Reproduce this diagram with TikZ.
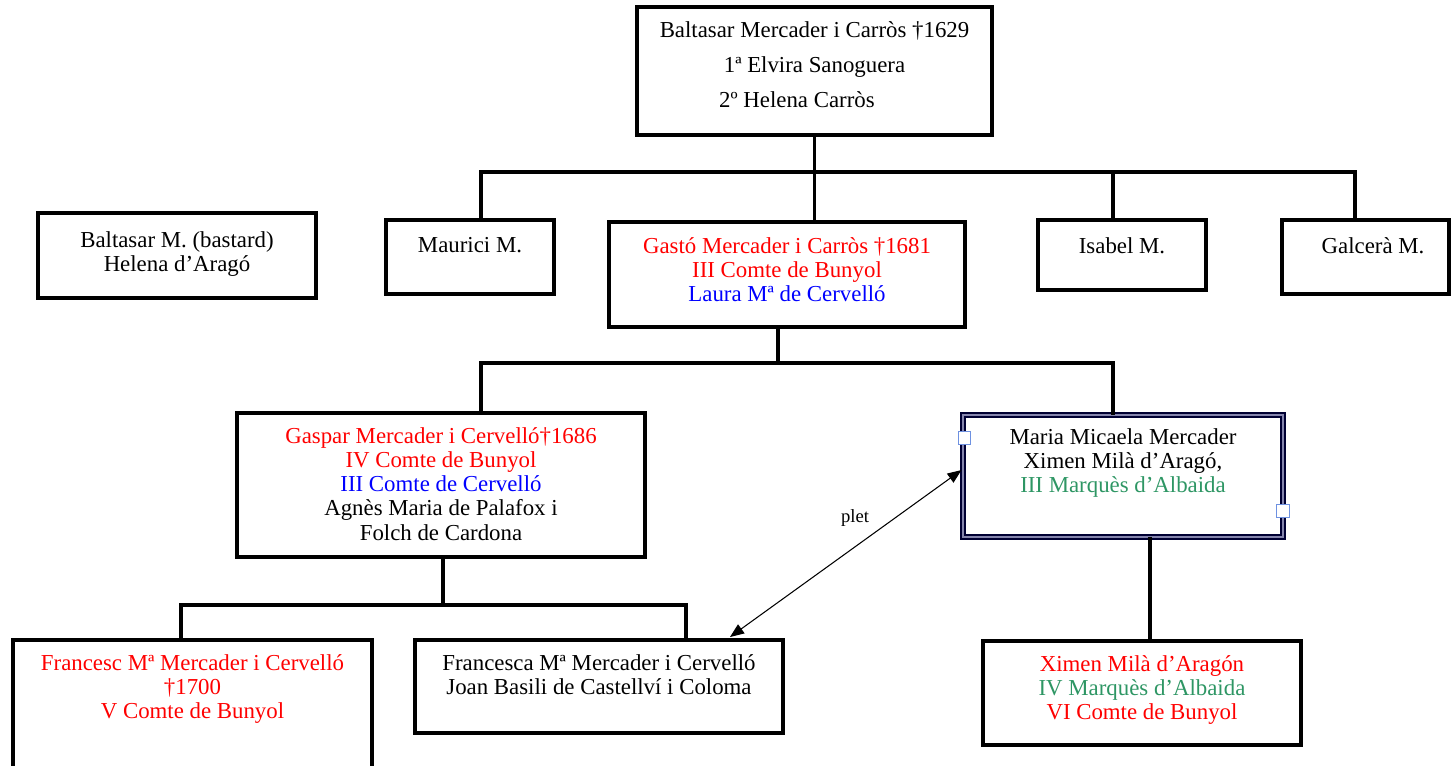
\documentclass[tikz,border=0pt]{standalone}
\usepackage{fontspec}
\setmainfont{Liberation Serif}
\usetikzlibrary{positioning,arrows.meta}
\definecolor{nobred}{RGB}{255,0,0}
\definecolor{nobblue}{RGB}{0,0,255}
\definecolor{nobgreen}{RGB}{46,150,100}
\definecolor{handleblue}{RGB}{110,145,225}

\begin{document}
\begin{tikzpicture}[x=0.02cm,y=-0.02cm,
	box/.style={draw, line width=2.2pt, inner sep=0pt, outer sep=0pt},
	txt/.style={inner sep=0pt, align=center, font=\fontsize{13}{13.7}\selectfont},
	conn/.style={line width=2.2pt},
	plet/.style={line width=0.6pt, {Triangle[length=0.28cm,width=0.22cm]}-{Triangle[length=0.28cm,width=0.22cm]}},
	handle/.style={draw=handleblue, fill=white, line width=0.8pt, minimum size=0.25cm, inner sep=0pt}]
	\clip (0,0) rectangle (1451,765);

	% boxes
	\node[box, minimum width=7.1cm, minimum height=2.56cm] (top) at (814.5,71) {};
	\node[box, minimum width=5.56cm, minimum height=1.7cm] (bastard) at (177,255.5) {};
	\node[box, minimum width=3.36cm, minimum height=1.48cm] (maurici) at (470,257) {};
	\node[box, minimum width=7.12cm, minimum height=2.1cm] (gasto) at (787,274.5) {};
	\node[box, minimum width=3.36cm, minimum height=1.4cm] (isabel) at (1122,255) {};
	\node[box, minimum width=3.34cm, minimum height=1.48cm] (galcera) at (1365.5,257) {};
	\node[box, minimum width=8.16cm, minimum height=2.88cm] (gaspar) at (441,485) {};
	\node[box, draw=black!80!blue, double=blue!20!gray!80, double distance=1.2pt, line width=0.9pt, minimum width=6.4cm, minimum height=2.44cm] (maria) at (1123,476) {};
	\node[box, minimum width=7.18cm, minimum height=3.2cm] (francesc) at (192.5,720) {};
	\node[box, minimum width=7.36cm, minimum height=1.86cm] (francesca) at (599,686.5) {};
	\node[box, minimum width=6.36cm, minimum height=2.08cm] (ximen) at (1142,693) {};

	% texts
	\node[txt, font=\fontsize{13}{19.9}\selectfont, below=0.29cm of top.north] (toptxt) {Baltasar Mercader i Carròs †1629\\1ª Elvira Sanoguera\\2º Helena Carròs\hspace*{20pt}};
	\node[txt, below=0.37cm of bastard.north] (bastardtxt) {Baltasar M. (bastard)\\Helena d’Aragó};
	\node[txt, below=0.35cm of maurici.north] (mauricitxt) {Maurici M.};
	\node[txt, below=0.31cm of gasto.north] (gastotxt) {\textcolor{nobred}{Gastó Mercader i Carròs †1681}\\\textcolor{nobred}{III Comte de Bunyol}\\\textcolor{nobblue}{Laura Mª de Cervelló}};
	\node[txt, below=0.35cm of isabel.north] (isabeltxt) {Isabel M.};
	\node[txt, below=0.35cm of galcera.north, xshift=0.15cm] (galceratxt) {Galcerà M.};
	\node[txt, below=0.29cm of gaspar.north] (gaspartxt) {\textcolor{nobred}{Gaspar Mercader i Cervelló†1686}\\\textcolor{nobred}{IV Comte de Bunyol}\\\textcolor{nobblue}{III Comte de Cervelló}\\Agnès Maria de Palafox i\\Folch de Cardona};
	\node[txt, below=0.27cm of maria.north] (mariatxt) {Maria Micaela Mercader\\Ximen Milà d’Aragó,\\\textcolor{nobgreen}{III Marquès d’Albaida}};
	\node[txt, below=0.29cm of francesc.north] (francesctxt) {\textcolor{nobred}{Francesc Mª Mercader i Cervelló}\\\textcolor{nobred}{†1700}\\\textcolor{nobred}{V Comte de Bunyol}};
	\node[txt, below=0.29cm of francesca.north] (francescatxt) {Francesca Mª Mercader i Cervelló\\Joan Basili de Castellví i Coloma};
	\node[txt, below=0.29cm of ximen.north] (ximentxt) {\textcolor{nobred}{Ximen Milà d’Aragón}\\\textcolor{nobgreen}{IV Marquès d’Albaida}\\\textcolor{nobred}{VI Comte de Bunyol}};

	% handles on the selected box
	\node[handle, yshift=0.76cm, xshift=0.03cm] (h1) at (maria.west) {};
	\node[handle, yshift=-0.7cm] (h2) at (maria.east) {};

	% family lines
	\coordinate (bus1) at (815,172);
	\coordinate (bus2) at (778,363);
	\coordinate (bus3) at (443,605);
	\draw[conn] (top.south) -- (top.south |- gasto.north);
	\draw[conn] ([xshift=0.22cm]maurici.north) |- (bus1) -| ([xshift=-0.21cm]galcera.north);
	\draw[conn] ([xshift=-0.18cm]isabel.north) -- ([xshift=-0.18cm]isabel.north |- bus1);
	\draw[conn] ([xshift=-0.18cm]gasto.south) -- (bus2);
	\draw[conn] ([xshift=0.8cm]gaspar.north) |- (bus2) -| ([xshift=-0.2cm]maria.north);
	\draw[conn] ([xshift=0.04cm]gaspar.south) -- (bus3);
	\draw[conn] ([xshift=-0.23cm]francesc.north) |- (bus3) -| ([xshift=1.74cm]francesca.north);
	\draw[conn] ([xshift=0.54cm]maria.south) -- ([xshift=0.54cm]maria.south |- ximen.north);

	\draw[plet] ([xshift=2.62cm,yshift=0.06cm]francesca.north) -- node[pos=0.54, above=0.4cm, inner sep=0pt, font=\fontsize{10.6}{12}\selectfont] (plettxt) {plet} ([xshift=-0.03cm,yshift=0.12cm]maria.west);
\end{tikzpicture}
\end{document}
